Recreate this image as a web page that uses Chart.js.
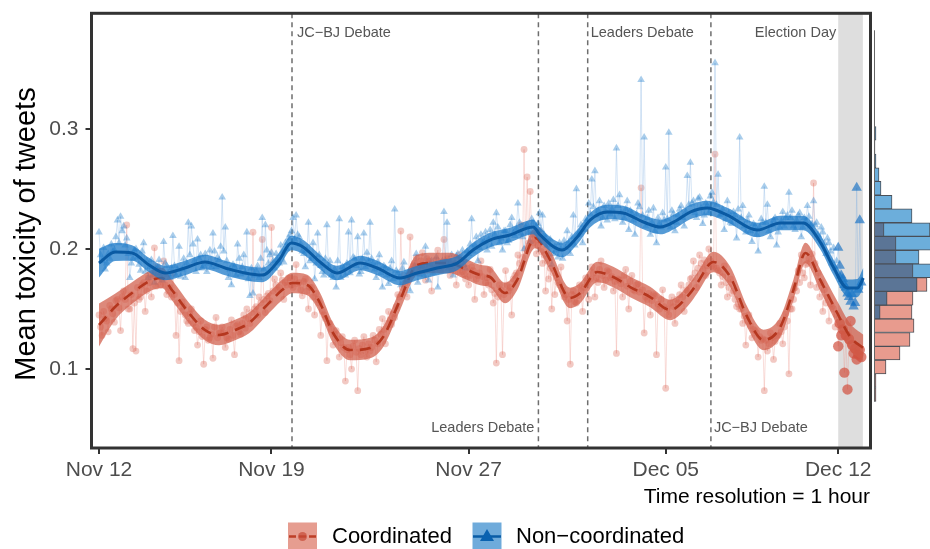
<!DOCTYPE html>
<html>
<head>
<meta charset="utf-8">
<script src="https://cdn.jsdelivr.net/npm/chart.js@4.4.1/dist/chart.umd.min.js"></script>
<style>
  html, body { margin: 0; padding: 0; background: #fff; }
  #wrap { position: relative; width: 930px; height: 549px; overflow: hidden; }
  #wrap canvas { position: absolute; left: 0; top: 0; }
</style>
</head>
<body>
<div id="wrap">
  <canvas id="main" width="930" height="549"></canvas>
  <canvas id="hist" width="930" height="549"></canvas>
</div>
<script>
// x values are days since Nov 12 00:00
const xTickDays = [0, 7, 15, 23, 30];
const xTickLabels = ['Nov 12', 'Nov 19', 'Nov 27', 'Dec 05', 'Dec 12'];
const yTicks = [0.1, 0.2, 0.3];

const eventDays = [7.833, 17.833, 19.833, 24.833];
const eventLabels = ['JC\u2212BJ Debate', 'Leaders Debate', 'Leaders Debate', 'JC\u2212BJ Debate'];
const electionSpan = [30, 31];
const electionLabel = 'Election Day';

// hourly means, one row per day: at 0,3,...,21 h and at 1.5,4.5,...,22.5 h
const slotHours = [0, 3, 6, 9, 12, 15, 18, 21];
const halfHours = [1.5, 4.5, 7.5, 10.5, 13.5, 16.5, 19.5, 22.5];
const blueHourly = [
  0.214, 0.190, 0.183, 0.196, 0.204, 0.199, 0.224, 0.227,
  0.219, 0.209, 0.176, 0.192, 0.200, 0.187, 0.198, 0.181,
  0.176, 0.191, 0.172, 0.184, 0.180, 0.206, 0.186, 0.176,
  0.211, 0.178, 0.202, 0.183, 0.176, 0.222, 0.219, 0.190,
  0.208, 0.195, 0.186, 0.181, 0.199, 0.213, 0.185, 0.191,
  0.243, 0.218, 0.176, 0.170, 0.185, 0.204, 0.179, 0.195,
  0.214, 0.161, 0.163, 0.182, 0.176, 0.226, 0.220, 0.188,
  0.197, 0.184, 0.191, 0.203, 0.189, 0.200, 0.212, 0.226,
  0.228, 0.210, 0.198, 0.185, 0.222, 0.192, 0.175, 0.213,
  0.186, 0.178, 0.220, 0.190, 0.176, 0.168, 0.225, 0.185,
  0.178, 0.214, 0.224, 0.192, 0.210, 0.181, 0.213, 0.197,
  0.222, 0.188, 0.176, 0.195, 0.168, 0.184, 0.171, 0.190,
  0.233, 0.180, 0.170, 0.189, 0.176, 0.165, 0.182, 0.196,
  0.179, 0.186, 0.202, 0.174, 0.190, 0.183, 0.168, 0.188,
  0.231, 0.222, 0.189, 0.178, 0.194, 0.186, 0.199, 0.184,
  0.196, 0.225, 0.203, 0.190, 0.212, 0.206, 0.199, 0.216,
  0.222, 0.230, 0.205, 0.199, 0.215, 0.207, 0.226, 0.211,
  0.238, 0.213, 0.200, 0.220, 0.206, 0.222, 0.219, 0.230,
  0.228, 0.209, 0.195, 0.187, 0.202, 0.193, 0.200, 0.207,
  0.215, 0.196, 0.228, 0.250, 0.214, 0.205, 0.225, 0.238,
  0.258, 0.265, 0.232, 0.219, 0.236, 0.224, 0.229, 0.241,
  0.284, 0.245, 0.222, 0.233, 0.216, 0.229, 0.212, 0.238,
  0.341, 0.293, 0.226, 0.212, 0.234, 0.205, 0.221, 0.230,
  0.268, 0.297, 0.232, 0.215, 0.228, 0.236, 0.219, 0.261,
  0.272, 0.240, 0.226, 0.243, 0.221, 0.238, 0.230, 0.247,
  0.355, 0.262, 0.229, 0.216, 0.240, 0.222, 0.231, 0.209,
  0.293, 0.236, 0.214, 0.228, 0.206, 0.219, 0.198, 0.225,
  0.252, 0.237, 0.210, 0.224, 0.203, 0.218, 0.231, 0.226,
  0.247, 0.232, 0.216, 0.228, 0.210, 0.226, 0.236, 0.219,
  0.240, 0.222, 0.209, 0.214, 0.196, 0.205, 0.188, 0.184,
  0.201, 0.178, 0.170, 0.163, 0.156, 0.152, 0.251, 0.224
];
const blueHalf = [
  0.195, 0.201, 0.188, 0.192, 0.198, 0.210, 0.205, 0.215,
  0.203, 0.196, 0.188, 0.199, 0.193, 0.182, 0.205, 0.190,
  0.185, 0.178, 0.183, 0.191, 0.174, 0.188, 0.179, 0.184,
  0.186, 0.183, 0.177, 0.192, 0.188, 0.195, 0.204, 0.181,
  0.192, 0.184, 0.196, 0.188, 0.185, 0.198, 0.193, 0.202,
  0.198, 0.190, 0.183, 0.187, 0.178, 0.192, 0.185, 0.180,
  0.175, 0.184, 0.178, 0.186, 0.192, 0.183, 0.199, 0.195,
  0.190, 0.196, 0.188, 0.198, 0.205, 0.209, 0.215, 0.208,
  0.212, 0.204, 0.196, 0.199, 0.190, 0.205, 0.188, 0.195,
  0.181, 0.192, 0.185, 0.178, 0.183, 0.190, 0.176, 0.184,
  0.188, 0.180, 0.193, 0.186, 0.179, 0.192, 0.185, 0.190,
  0.192, 0.183, 0.189, 0.180, 0.186, 0.178, 0.184, 0.175,
  0.182, 0.176, 0.184, 0.174, 0.181, 0.178, 0.186, 0.172,
  0.185, 0.178, 0.183, 0.187, 0.180, 0.193, 0.184, 0.190,
  0.190, 0.184, 0.195, 0.188, 0.196, 0.191, 0.187, 0.198,
  0.204, 0.198, 0.210, 0.201, 0.205, 0.214, 0.208, 0.202,
  0.212, 0.218, 0.209, 0.215, 0.205, 0.220, 0.213, 0.217,
  0.222, 0.210, 0.218, 0.214, 0.225, 0.212, 0.221, 0.216,
  0.212, 0.203, 0.208, 0.196, 0.199, 0.205, 0.192, 0.201,
  0.205, 0.210, 0.203, 0.212, 0.220, 0.216, 0.223, 0.229,
  0.235, 0.228, 0.240, 0.226, 0.231, 0.238, 0.233, 0.225,
  0.236, 0.230, 0.226, 0.240, 0.232, 0.224, 0.229, 0.235,
  0.228, 0.219, 0.232, 0.222, 0.215, 0.226, 0.218, 0.224,
  0.225, 0.218, 0.229, 0.222, 0.233, 0.226, 0.231, 0.237,
  0.238, 0.230, 0.242, 0.234, 0.228, 0.236, 0.244, 0.239,
  0.237, 0.228, 0.233, 0.225, 0.230, 0.221, 0.228, 0.233,
  0.226, 0.219, 0.224, 0.215, 0.221, 0.212, 0.218, 0.222,
  0.222, 0.215, 0.220, 0.226, 0.214, 0.223, 0.219, 0.228,
  0.226, 0.219, 0.224, 0.230, 0.218, 0.223, 0.227, 0.221,
  0.220, 0.212, 0.218, 0.205, 0.209, 0.198, 0.201, 0.190,
  0.186, 0.175, 0.168, 0.160, 0.162, 0.155, 0.166, 0.172
];
const redHourly = [
  0.145, 0.128, 0.142, 0.131, 0.150, 0.139, 0.158, 0.132,
  0.165, 0.220, 0.150, 0.117, 0.115, 0.158, 0.170, 0.148,
  0.176, 0.160, 0.201, 0.185, 0.170, 0.190, 0.162, 0.168,
  0.180, 0.128, 0.107, 0.156, 0.145, 0.138, 0.150, 0.132,
  0.120, 0.140, 0.104, 0.135, 0.126, 0.109, 0.143, 0.130,
  0.135, 0.118, 0.125, 0.141, 0.112, 0.137, 0.129, 0.145,
  0.150, 0.138, 0.214, 0.152, 0.160, 0.208, 0.147, 0.163,
  0.218, 0.175, 0.166, 0.180, 0.158, 0.170, 0.176, 0.168,
  0.187, 0.172, 0.161, 0.175, 0.150, 0.168, 0.145, 0.158,
  0.128, 0.145, 0.107, 0.138, 0.120, 0.132, 0.110, 0.127,
  0.090, 0.118, 0.100, 0.124, 0.082, 0.112, 0.127, 0.110,
  0.115, 0.128, 0.106, 0.133, 0.142, 0.121, 0.148, 0.137,
  0.143, 0.162, 0.215, 0.178, 0.160, 0.210, 0.186, 0.193,
  0.180, 0.197, 0.174, 0.190, 0.165, 0.186, 0.199, 0.182,
  0.208, 0.192, 0.178, 0.186, 0.170, 0.195, 0.181, 0.175,
  0.170, 0.185, 0.158, 0.178, 0.190, 0.162, 0.176, 0.183,
  0.155, 0.105, 0.170, 0.112, 0.182, 0.165, 0.145, 0.178,
  0.195, 0.220, 0.283, 0.260, 0.248, 0.205, 0.196, 0.215,
  0.188, 0.165, 0.175, 0.150, 0.162, 0.172, 0.185, 0.160,
  0.140, 0.104, 0.165, 0.155, 0.170, 0.148, 0.176, 0.158,
  0.185, 0.160, 0.172, 0.190, 0.168, 0.182, 0.176, 0.165,
  0.113, 0.174, 0.160, 0.183, 0.150, 0.178, 0.165, 0.171,
  0.251, 0.130, 0.158, 0.145, 0.162, 0.112, 0.150, 0.166,
  0.084, 0.145, 0.160, 0.138, 0.155, 0.170, 0.148, 0.165,
  0.175, 0.190, 0.168, 0.195, 0.183, 0.178, 0.200, 0.186,
  0.279, 0.182, 0.170, 0.186, 0.160, 0.175, 0.165, 0.152,
  0.150, 0.138, 0.120, 0.145, 0.126, 0.132, 0.110, 0.124,
  0.082, 0.115, 0.130, 0.108, 0.128, 0.138, 0.121, 0.146,
  0.096, 0.150, 0.168, 0.182, 0.195, 0.176, 0.188, 0.170,
  0.255, 0.168, 0.160, 0.148, 0.155, 0.140, 0.152, 0.135,
  0.119, 0.128, 0.097, 0.083, 0.140, 0.113, 0.108, 0.116
];
const redHalf = [
  0.135, 0.148, 0.140, 0.153, 0.146, 0.157, 0.151, 0.160,
  0.158, 0.150, 0.162, 0.155, 0.168, 0.160, 0.172, 0.165,
  0.172, 0.178, 0.169, 0.180, 0.175, 0.170, 0.165, 0.160,
  0.162, 0.155, 0.148, 0.152, 0.140, 0.146, 0.138, 0.135,
  0.131, 0.127, 0.133, 0.124, 0.129, 0.135, 0.126, 0.130,
  0.130, 0.126, 0.133, 0.128, 0.136, 0.131, 0.138, 0.134,
  0.142, 0.147, 0.150, 0.145, 0.155, 0.158, 0.161, 0.157,
  0.165, 0.170, 0.168, 0.174, 0.172, 0.176, 0.170, 0.175,
  0.171, 0.166, 0.173, 0.165, 0.168, 0.160, 0.163, 0.155,
  0.148, 0.142, 0.138, 0.133, 0.129, 0.125, 0.122, 0.118,
  0.116, 0.112, 0.119, 0.114, 0.117, 0.120, 0.115, 0.121,
  0.118, 0.124, 0.121, 0.129, 0.133, 0.138, 0.141, 0.146,
  0.152, 0.160, 0.168, 0.172, 0.178, 0.183, 0.188, 0.185,
  0.190, 0.185, 0.192, 0.187, 0.183, 0.191, 0.186, 0.189,
  0.186, 0.190, 0.183, 0.188, 0.181, 0.185, 0.179, 0.184,
  0.178, 0.182, 0.175, 0.180, 0.177, 0.172, 0.170, 0.166,
  0.163, 0.160, 0.166, 0.162, 0.170, 0.168, 0.175, 0.180,
  0.188, 0.193, 0.200, 0.205, 0.212, 0.208, 0.203, 0.198,
  0.195, 0.190, 0.184, 0.180, 0.176, 0.170, 0.166, 0.162,
  0.158, 0.162, 0.156, 0.161, 0.165, 0.168, 0.172, 0.175,
  0.180, 0.176, 0.183, 0.178, 0.174, 0.181, 0.177, 0.173,
  0.175, 0.171, 0.178, 0.169, 0.173, 0.166, 0.170, 0.164,
  0.166, 0.160, 0.163, 0.157, 0.161, 0.154, 0.158, 0.152,
  0.150, 0.155, 0.152, 0.158, 0.162, 0.160, 0.166, 0.170,
  0.176, 0.180, 0.184, 0.188, 0.191, 0.186, 0.190, 0.185,
  0.184, 0.180, 0.177, 0.172, 0.168, 0.163, 0.158, 0.154,
  0.150, 0.144, 0.140, 0.136, 0.133, 0.130, 0.127, 0.125,
  0.124, 0.121, 0.126, 0.123, 0.128, 0.131, 0.135, 0.140,
  0.150, 0.158, 0.165, 0.172, 0.180, 0.187, 0.192, 0.196,
  0.188, 0.180, 0.172, 0.166, 0.160, 0.154, 0.150, 0.145,
  0.138, 0.133, 0.128, 0.125, 0.120, 0.117, 0.112, 0.110
];

// smoothed trend with confidence band half-width
const blueSmoothDays = [0.00, 0.65, 1.34, 2.03, 2.68, 3.49, 4.30, 5.12, 5.93, 6.62, 7.31, 7.80, 8.28, 8.97, 9.66,
  10.60, 11.29, 12.22, 12.91, 13.72, 14.54, 15.18, 15.87, 16.68, 17.62, 17.90, 18.80, 19.41, 19.94, 20.63,
  21.27, 22.09, 22.78, 23.47, 23.99, 24.68, 25.50, 26.72, 27.65, 28.58, 29.27, 29.80, 30.37, 30.78, 31.02];
const blueSmooth = [0.1883, 0.1975, 0.1967, 0.1867, 0.1800, 0.1842, 0.1892, 0.1842, 0.1800, 0.1783, 0.1908, 0.2050, 0.2017, 0.1892, 0.1800,
  0.1883, 0.1842, 0.1758, 0.1800, 0.1842, 0.1883, 0.1992, 0.2075, 0.2117, 0.2183, 0.2117, 0.1992, 0.2100, 0.2242, 0.2308,
  0.2300, 0.2225, 0.2183, 0.2242, 0.2308, 0.2342, 0.2283, 0.2158, 0.2217, 0.2217, 0.2058, 0.1850, 0.1675, 0.1675, 0.1758];
const blueBand = [0.012, 0.0075, 0.0065, 0.006, 0.006, 0.006, 0.006, 0.006, 0.006, 0.006, 0.006, 0.006, 0.006, 0.006, 0.006,
  0.006, 0.006, 0.006, 0.006, 0.006, 0.006, 0.006, 0.006, 0.006, 0.006, 0.006, 0.006, 0.006, 0.006, 0.006,
  0.006, 0.006, 0.006, 0.006, 0.006, 0.006, 0.006, 0.006, 0.006, 0.006, 0.006, 0.0065, 0.007, 0.0075, 0.0085];

const redSmoothDays = [0.00, 0.65, 1.34, 2.15, 2.56, 2.96, 3.65, 4.30, 4.87, 5.52, 6.09, 6.74, 7.43, 7.84, 8.45, 8.97, 9.50,
  10.19, 11.00, 11.53, 12.22, 12.91, 13.56, 14.25, 14.78, 15.47, 15.87, 16.48, 16.97, 17.70, 18.31, 19.12, 19.53,
  20.22, 20.87, 21.56, 22.37, 23.18, 23.99, 24.28, 24.93, 25.62, 26.31, 26.96, 27.65, 28.18, 28.67, 29.27, 29.96, 30.49, 31.02];
const redSmooth = [0.1367, 0.1517, 0.1633, 0.1742, 0.1758, 0.1658, 0.1467, 0.1325, 0.1283, 0.1325, 0.1383, 0.1517, 0.1658, 0.1717, 0.1700, 0.1550, 0.1300,
  0.1158, 0.1175, 0.1267, 0.1575, 0.1867, 0.1883, 0.1883, 0.1842, 0.1783, 0.1767, 0.1633, 0.1742, 0.2092, 0.1908, 0.1592, 0.1633,
  0.1808, 0.1767, 0.1683, 0.1600, 0.1492, 0.1633, 0.1717, 0.1892, 0.1767, 0.1433, 0.1242, 0.1350, 0.1658, 0.1967, 0.1742, 0.1467, 0.1267, 0.1175];
const redBand = [0.018, 0.011, 0.009, 0.0085, 0.0085, 0.0085, 0.0085, 0.0085, 0.0085, 0.0085, 0.0085, 0.0085, 0.0085, 0.0085, 0.0085, 0.0085, 0.0085,
  0.0085, 0.0085, 0.0085, 0.0085, 0.0085, 0.0085, 0.0085, 0.0085, 0.0085, 0.0085, 0.0085, 0.0085, 0.0085, 0.0085, 0.0085, 0.0085,
  0.0085, 0.0085, 0.0085, 0.0085, 0.0085, 0.0085, 0.0085, 0.0085, 0.0085, 0.0085, 0.0085, 0.0085, 0.0085, 0.0085, 0.009, 0.010, 0.011, 0.011];

// marginal histogram (bin mid values, counts)
const histBins = [0.0788, 0.0903, 0.1017, 0.1132, 0.1246, 0.1361, 0.1475, 0.1590, 0.1704, 0.1819, 0.1933, 0.2048, 0.2162, 0.2277,
  0.2391, 0.2506, 0.2620, 0.2735, 0.2849, 0.2964, 0.3078, 0.3193, 0.3307, 0.3422, 0.3536, 0.3651, 0.3765];
const histRed = [2, 2, 12, 26, 36, 40, 38, 39, 53, 39, 22, 22, 10, 0, 0, 0, 0, 0, 0, 0, 0, 0, 0, 0, 0, 0, 0];
const histBlue = [0, 0, 0, 0, 0, 0, 6, 13, 43, 62, 45, 62, 56, 38, 18, 7, 5, 2, 1, 2, 0, 0, 0, 0, 0, 0, 0];

const FONT = '"Liberation Sans", Arial, Helvetica, sans-serif';
Chart.defaults.font.family = FONT;

const X_MIN = -0.304, X_MAX = 31.31;
const Y_MIN = 0.0342, Y_MAX = 0.3964;

const toPoints = (vals, hours) => vals.map((v, i) => ({ x: Math.floor(i / 8) + hours[i % 8] / 24, y: v }));
const merged = (a, b) => toPoints(a, slotHours).concat(toPoints(b, halfHours)).sort((p, q) => p.x - q.x);
const curve = (days, vals, off, sign) => days.map((d, i) => ({ x: d, y: vals[i] + sign * (off ? off[i] : 0) }));
// election day hours carry many more tweets, so their markers are drawn bigger
const onElection = (c) => c.raw && c.raw.x >= electionSpan[0];

const decor = {
  id: 'decor',
  beforeDatasetsDraw(chart) {
    const { ctx, chartArea: a, scales: { x } } = chart;
    ctx.save();
    const e0 = x.getPixelForValue(electionSpan[0]);
    const e1 = x.getPixelForValue(electionSpan[1]);
    ctx.fillStyle = '#dedede';
    ctx.fillRect(e0, a.top, e1 - e0, a.bottom - a.top);
    ctx.strokeStyle = '#6e6e6e';
    ctx.lineWidth = 1.5;
    ctx.setLineDash([5, 4]);
    eventDays.forEach(d => {
      const px = x.getPixelForValue(d);
      ctx.beginPath();
      ctx.moveTo(px, a.top);
      ctx.lineTo(px, a.bottom);
      ctx.stroke();
    });
    ctx.restore();
  },
  afterDraw(chart) {
    const { ctx, chartArea: a, scales: { x } } = chart;
    ctx.save();
    // panel border
    ctx.strokeStyle = '#333';
    ctx.lineWidth = 3;
    ctx.strokeRect(a.left, a.top, a.right - a.left, a.bottom - a.top);

    // event labels
    ctx.fillStyle = '#555';
    ctx.font = '14.5px ' + FONT;
    ctx.textBaseline = 'middle';
    const place = [
      { dx: 5, y: 33, align: 'left' },
      { dx: -4, y: 428, align: 'right' },
      { dx: 3, y: 33, align: 'left' },
      { dx: 3, y: 428, align: 'left' }
    ];
    eventDays.forEach((d, i) => {
      ctx.textAlign = place[i].align;
      ctx.fillText(eventLabels[i], x.getPixelForValue(d) + place[i].dx, place[i].y);
    });
    ctx.textAlign = 'right';
    ctx.fillText(electionLabel, x.getPixelForValue(electionSpan[0]) - 2, 33);

    // y title
    ctx.save();
    ctx.translate(35, 234);
    ctx.rotate(-Math.PI / 2);
    ctx.fillStyle = '#000';
    ctx.font = '29px ' + FONT;
    ctx.textAlign = 'center';
    ctx.textBaseline = 'alphabetic';
    ctx.fillText('Mean toxicity of tweets', 0, 0);
    ctx.restore();

    // caption
    ctx.fillStyle = '#000';
    ctx.font = '21px ' + FONT;
    ctx.textAlign = 'right';
    ctx.textBaseline = 'middle';
    ctx.fillText('Time resolution = 1 hour', 870, 497);

    // legend
    ctx.fillStyle = 'rgba(226,140,124,0.85)';
    ctx.fillRect(288, 522.5, 29, 29);
    ctx.strokeStyle = '#bd3f27';
    ctx.lineWidth = 2.5;
    ctx.setLineDash([7, 3]);
    ctx.beginPath(); ctx.moveTo(289, 536.5); ctx.lineTo(316, 536.5); ctx.stroke();
    ctx.setLineDash([]);
    ctx.fillStyle = 'rgba(200,75,55,0.7)';
    ctx.beginPath(); ctx.arc(302.5, 536.5, 4.5, 0, Math.PI * 2); ctx.fill();

    ctx.fillStyle = 'rgba(95,162,215,0.9)';
    ctx.fillRect(472.5, 522.5, 29, 29);
    ctx.strokeStyle = '#0a5ca6';
    ctx.lineWidth = 2.5;
    ctx.beginPath(); ctx.moveTo(473, 536.5); ctx.lineTo(501, 536.5); ctx.stroke();
    ctx.fillStyle = '#0a62b0';
    ctx.beginPath(); ctx.moveTo(487, 529); ctx.lineTo(494, 541); ctx.lineTo(480, 541); ctx.closePath(); ctx.fill();

    ctx.fillStyle = '#000';
    ctx.font = '22px ' + FONT;
    ctx.textAlign = 'left';
    ctx.textBaseline = 'middle';
    ctx.fillText('Coordinated', 332, 537);
    ctx.fillText('Non\u2212coordinated', 516, 537);
    ctx.restore();
  }
};

new Chart(document.getElementById('main'), {
  type: 'line',
  data: {
    datasets: [
      { label: 'Coordinated points', data: merged(redHourly, redHalf), order: 6,
        borderColor: 'rgba(236,150,140,0.32)', borderWidth: 1, tension: 0,
        pointStyle: 'circle', pointBorderWidth: 0,
        pointRadius: c => onElection(c) ? 5.2 : 3.4,
        pointBackgroundColor: c => onElection(c) ? 'rgba(210,80,62,0.7)' : 'rgba(220,105,90,0.36)' },
      { label: 'Non-coordinated points', data: merged(blueHourly, blueHalf), order: 5,
        borderColor: 'rgba(120,170,225,0.32)', borderWidth: 1, tension: 0,
        pointStyle: 'triangle', pointBorderWidth: 0,
        pointRadius: c => onElection(c) ? 6 : 4.4,
        pointBackgroundColor: c => onElection(c) ? 'rgba(20,110,195,0.65)' : 'rgba(40,130,205,0.4)' },
      { label: 'red lo', data: curve(redSmoothDays, redSmooth, redBand, -1), order: 4,
        borderWidth: 0, pointRadius: 0, fill: false, tension: 0.4, cubicInterpolationMode: 'monotone' },
      { label: 'red hi', data: curve(redSmoothDays, redSmooth, redBand, 1), order: 4,
        borderWidth: 0, pointRadius: 0, fill: '-1', backgroundColor: 'rgba(208,92,72,0.72)',
        tension: 0.4, cubicInterpolationMode: 'monotone' },
      { label: 'Coordinated', data: curve(redSmoothDays, redSmooth, null, 0), order: 3,
        borderColor: '#b5371f', borderWidth: 2.6, borderDash: [11, 7], pointRadius: 0,
        fill: false, tension: 0.4, cubicInterpolationMode: 'monotone' },
      { label: 'blue lo', data: curve(blueSmoothDays, blueSmooth, blueBand, -1), order: 2,
        borderWidth: 0, pointRadius: 0, fill: false, tension: 0.4, cubicInterpolationMode: 'monotone' },
      { label: 'blue hi', data: curve(blueSmoothDays, blueSmooth, blueBand, 1), order: 2,
        borderWidth: 0, pointRadius: 0, fill: '-1', backgroundColor: 'rgba(28,122,200,0.75)',
        tension: 0.4, cubicInterpolationMode: 'monotone' },
      { label: 'Non-coordinated', data: curve(blueSmoothDays, blueSmooth, null, 0), order: 1,
        borderColor: '#0a5aa3', borderWidth: 3, pointRadius: 0,
        fill: false, tension: 0.4, cubicInterpolationMode: 'monotone' }
    ]
  },
  options: {
    responsive: false,
    animation: false,
    events: [],
    layout: { padding: { left: 0, right: 59.5, top: 13.3, bottom: 0 } },
    plugins: { legend: { display: false }, tooltip: { enabled: false } },
    scales: {
      x: {
        type: 'linear', min: X_MIN, max: X_MAX,
        afterBuildTicks: s => { s.ticks = xTickDays.map(v => ({ value: v })); },
        afterFit: s => { s.height = 101; s.paddingLeft = 0; s.paddingRight = 0; },
        ticks: {
          autoSkip: false, maxRotation: 0, padding: 4, color: '#4d4d4d',
          font: { size: 21, family: FONT },
          callback: v => xTickLabels[xTickDays.indexOf(v)]
        },
        grid: { display: true, drawOnChartArea: false, drawTicks: true, tickLength: 6, color: '#333', lineWidth: 2 },
        border: { display: false }
      },
      y: {
        type: 'linear', min: Y_MIN, max: Y_MAX,
        afterBuildTicks: s => { s.ticks = yTicks.map(v => ({ value: v })); },
        afterFit: s => { s.width = 91.5; s.paddingTop = 0; s.paddingBottom = 0; },
        ticks: {
          padding: 7, color: '#4d4d4d',
          font: { size: 21, family: FONT },
          callback: v => v.toFixed(1)
        },
        grid: { display: true, drawOnChartArea: false, drawTicks: true, tickLength: 6, color: '#333', lineWidth: 2 },
        border: { display: false }
      }
    }
  },
  plugins: [decor]
});

const histBase = {
  id: 'histBase',
  afterDatasetsDraw(chart) {
    const { ctx, scales: { x, y } } = chart;
    const half = (histBins[1] - histBins[0]) / 2;
    ctx.save();
    ctx.strokeStyle = '#666';
    ctx.lineWidth = 1;
    ctx.beginPath();
    ctx.moveTo(x.getPixelForValue(0) + 0.5, y.getPixelForValue(histBins[histBins.length - 1] + half));
    ctx.lineTo(x.getPixelForValue(0) + 0.5, y.getPixelForValue(histBins[0] - half));
    ctx.stroke();
    ctx.restore();
  }
};

const histOverlap = histBins.map((b, i) => ({ y: b, x: Math.min(histRed[i], histBlue[i]) }));

new Chart(document.getElementById('hist'), {
  type: 'bar',
  data: {
    datasets: [
      { label: 'both', data: histOverlap, backgroundColor: '#5b7596', borderColor: '#4a4f57', borderWidth: 1, grouped: false },
      { label: 'Non-coordinated', data: histBins.map((b, i) => ({ y: b, x: histBlue[i] })), backgroundColor: '#6caedb', borderColor: '#4a4f57', borderWidth: 1, grouped: false },
      { label: 'Coordinated', data: histBins.map((b, i) => ({ y: b, x: histRed[i] })), backgroundColor: '#e89b8e', borderColor: '#4a4f57', borderWidth: 1, grouped: false }
    ]
  },
  options: {
    indexAxis: 'y',
    responsive: false,
    animation: false,
    events: [],
    barPercentage: 1,
    categoryPercentage: 1,
    layout: { padding: { left: 874, right: 0, top: 13.3, bottom: 101 } },
    plugins: { legend: { display: false }, tooltip: { enabled: false } },
    scales: {
      y: { type: 'linear', min: Y_MIN, max: Y_MAX, display: false, offset: false },
      x: { type: 'linear', min: 0, max: 56, display: false }
    }
  },
  plugins: [histBase]
});
</script>
</body>
</html>
